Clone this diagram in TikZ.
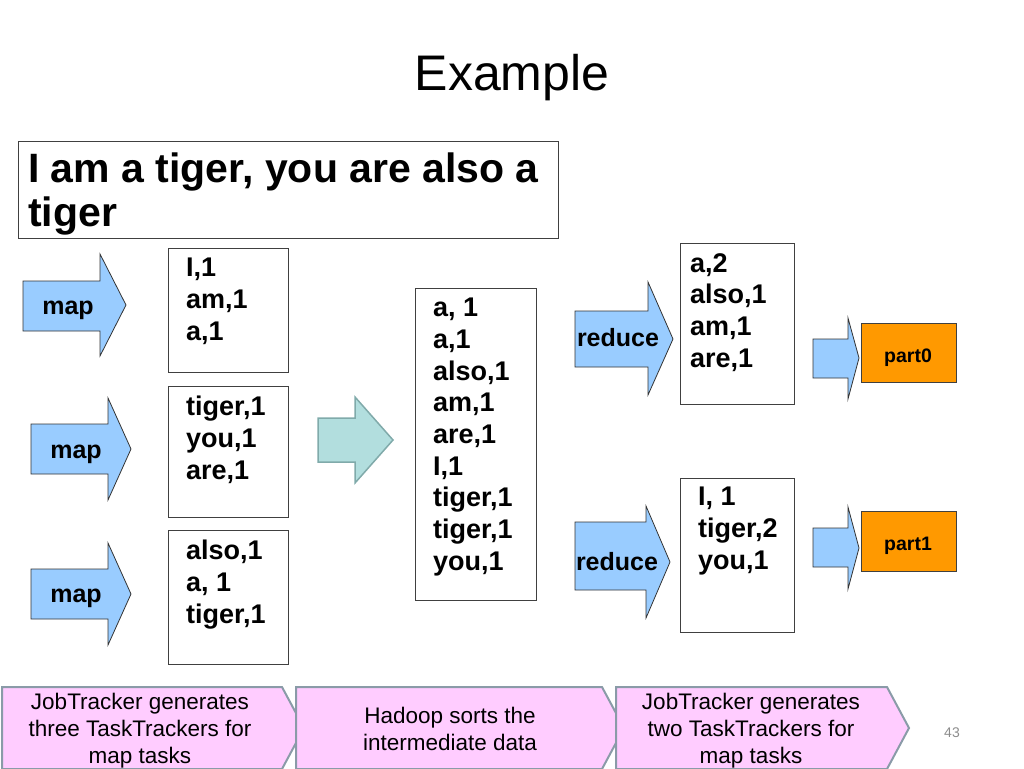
\documentclass[tikz,border=0pt]{standalone}
\usepackage{fontspec}
\setmainfont{Liberation Sans}
\definecolor{arrowblue}{HTML}{99CCFF}
\definecolor{sortteal}{HTML}{B2DEDE}
\definecolor{sortedge}{HTML}{80AAAA}
\definecolor{partorange}{HTML}{FF9900}
\definecolor{chevpink}{HTML}{FFCCFF}
\definecolor{chevedge}{HTML}{8A9BA8}
\tikzset{
  box/.style={draw=black!75, line width=1pt, anchor=north west, inner sep=0pt},
  listtext/.style={anchor=north west, align=left, inner sep=0pt,
    font=\bfseries\fontsize{27}{31.7}\selectfont},
  bluearrow/.style={fill=arrowblue, draw=black!80, line width=0.8pt},
  arrowlabel/.style={anchor=base, inner sep=0pt, font=\bfseries\fontsize{25}{28}\selectfont},
  chevron/.style={fill=chevpink, draw=chevedge, line width=2pt},
  chevtext/.style={anchor=north, align=center, inner sep=0pt, font=\fontsize{22.5}{27}\selectfont}
}
\begin{document}
\begin{tikzpicture}[x=1pt, y=-1pt]
\useasboundingbox (0,0) rectangle (1024,768);

\node[anchor=base, inner sep=0pt, font=\fontsize{50}{58}\selectfont] (title) at (512,90) {Example};

% sentence
\node[box, minimum width=540, minimum height=97] (input) at (18,141) {};
\node[anchor=north west, align=left, inner sep=0pt, font=\bfseries\fontsize{41}{44}\selectfont]
  (sentence) at ([shift={(10,12)}]input.north west) {I am a tiger, you are also a\\tiger};

% map step
\begin{scope}[bluearrow]
  \filldraw (23,281) -- (100,281) -- (100,254) -- (126,305) -- (100,356) -- (100,331) -- (23,331) -- cycle;
  \filldraw (31,424) -- (108,424) -- (108,398) -- (131,449) -- (108,500) -- (108,474) -- (31,474) -- cycle;
  \filldraw (31,569) -- (108,569) -- (108,543) -- (131,594) -- (108,645) -- (108,619) -- (31,619) -- cycle;
\end{scope}
\node[arrowlabel] (map1) at (68,314) {map};
\node[arrowlabel] (map2) at (76,458) {map};
\node[arrowlabel] (map3) at (76,602) {map};

\node[box, minimum width=120, minimum height=124] (mapout1) at (168,248) {};
\node[box, minimum width=120, minimum height=131] (mapout2) at (168,386) {};
\node[box, minimum width=120, minimum height=134] (mapout3) at (168,530) {};
\node[listtext] (list1) at ([shift={(18,10)}]mapout1.north west) {I,1\\am,1\\a,1};
\node[listtext] (list2) at ([shift={(18,10)}]mapout2.north west) {tiger,1\\you,1\\are,1};
\node[listtext] (list3) at ([shift={(18,10)}]mapout3.north west) {also,1\\a, 1\\tiger,1};

% sort step
\draw[fill=sortteal, draw=sortedge, line width=1.5pt]
  (318,418) -- (355,418) -- (355,397) -- (393,440) -- (355,483) -- (355,462) -- (318,462) -- cycle;
\node[box, minimum width=121, minimum height=312] (sorted) at (415,288) {};
\node[listtext] (sortlist) at ([shift={(18,10)}]sorted.north west)
  {a, 1\\a,1\\also,1\\am,1\\are,1\\I,1\\tiger,1\\tiger,1\\you,1};

% reduce step
\begin{scope}[bluearrow]
  \filldraw (575,311) -- (648,311) -- (648,282) -- (673,339) -- (648,395) -- (648,367) -- (575,367) -- cycle;
  \filldraw (575,522) -- (646,522) -- (646,506) -- (670,562) -- (646,618) -- (646,590) -- (575,590) -- cycle;
\end{scope}
\node[arrowlabel] (reduce1) at (618,346) {reduce};
\node[arrowlabel] (reduce2) at (617,570) {reduce};

\node[box, minimum width=114, minimum height=161] (redout1) at (680,243) {};
\node[box, minimum width=114, minimum height=154] (redout2) at (680,478) {};
\node[listtext] (red1) at ([shift={(10,10)}]redout1.north west) {a,2\\also,1\\am,1\\are,1};
\node[listtext] (red2) at ([shift={(18,9)}]redout2.north west) {I, 1\\tiger,2\\you,1};

% output parts
\begin{scope}[bluearrow]
  \filldraw (813,339) -- (848,339) -- (848,318) -- (859,358) -- (848,399) -- (848,378) -- (813,378) -- cycle;
  \filldraw (813,528) -- (848,528) -- (848,507) -- (859,548) -- (848,589) -- (848,567) -- (813,567) -- cycle;
\end{scope}
\node[box, fill=partorange, minimum width=95, minimum height=59] (part0) at (861,323) {};
\node[box, fill=partorange, minimum width=95, minimum height=60] (part1) at (861,511) {};
\node[arrowlabel, font=\bfseries\fontsize{19.5}{22}\selectfont] at (908,362) {part0};
\node[arrowlabel, font=\bfseries\fontsize{19.5}{22}\selectfont] at (908,550) {part1};

% stages along the bottom
\draw[chevron] (2,687) -- (282,687) -- (304,728) -- (282,769) -- (2,769) -- cycle;
\draw[chevron] (296,687) -- (602,687) -- (624,728) -- (602,769) -- (296,769) -- cycle;
\draw[chevron] (616,687) -- (887,687) -- (909,728) -- (887,769) -- (616,769) -- cycle;
\node[chevtext] (stage1) at (140,693) {JobTracker generates\\three TaskTrackers for\\map tasks};
\node[chevtext] (stage2) at (450,707) {Hadoop sorts the\\intermediate data};
\node[chevtext] (stage3) at (751,693) {JobTracker generates\\two TaskTrackers for\\map tasks};

\node[inner sep=0pt, text=black!45, font=\fontsize{14}{16}\selectfont] (pagenum) at (952,733) {43};
\end{tikzpicture}
\end{document}
